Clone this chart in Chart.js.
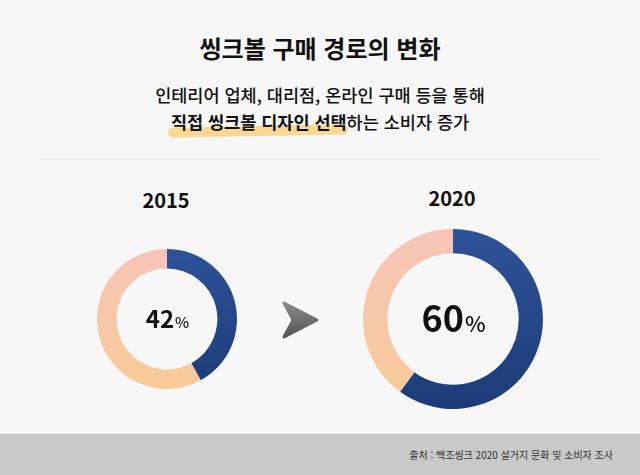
<!DOCTYPE html>
<html lang="ko">
<head>
<meta charset="utf-8">
<script src="https://cdn.jsdelivr.net/npm/chart.js@4/dist/chart.umd.min.js"></script>
<style>
  html, body { margin: 0; padding: 0; }
  body {
    width: 640px; height: 475px; position: relative; overflow: hidden;
    background: #f7f7f7;
    font-family: "Noto Sans CJK KR", "Noto Sans", sans-serif;
    color: #111;
  }
  .abs { position: absolute; }
  #title { left: 0; width: 640px; top: 31px; text-align: center; font-size: 24px; font-weight: 700; line-height: 34px; }
  .sub { left: 0; width: 640px; text-align: center; font-size: 17.5px; font-weight: 500; line-height: 24px; }
  #sub1 { top: 83px; }
  #sub2 { top: 110px; }
  #sub2 b { font-weight: 700; position: relative; }
  #mark { left: 168px; top: 126px; width: 180px; height: 10px; background: rgba(249, 208, 118, 0.8);
    border-radius: 5px; transform: rotate(-1deg); }
  #rule { left: 40px; top: 159px; width: 560px; height: 1px; background: #e9e9e9; }
  .year { font-size: 20px; font-weight: 700; text-align: center; width: 100px; line-height: 24px; }
  #footer { left: 0; top: 433px; width: 640px; height: 42px; background: #c9c9c9; border-top: 1px solid #efefef; }
  #source { right: 27px; top: 447px; font-size: 10px; color: #333; line-height: 16px; }
</style>
</head>
<body>
<div id="mark" class="abs"></div>
<div id="title" class="abs">씽크볼 구매 경로의 변화</div>
<div id="sub1" class="abs sub">인테리어 업체, 대리점, 온라인 구매 등을 통해</div>
<div id="sub2" class="abs sub"><b>직접 씽크볼 디자인 선택</b>하는 소비자 증가</div>
<div id="rule" class="abs"></div>

<div id="y0" class="abs year" style="left:116px; top:188px;"></div>
<div id="y1" class="abs year" style="left:402px; top:186px;"></div>

<div class="abs" style="left:97px; top:249px; width:140px; height:140px;"><canvas id="donut0"></canvas></div>
<div class="abs" style="left:363px; top:229px; width:180px; height:180px;"><canvas id="donut1"></canvas></div>

<svg class="abs" style="left:0; top:0;" width="640" height="475">
  <defs>
    <linearGradient id="arrowGrad" x1="0" y1="0" x2="0" y2="1">
      <stop offset="0" stop-color="#8a8a8a"/>
      <stop offset="1" stop-color="#555"/>
    </linearGradient>
  </defs>
  <polygon points="284,303 317,320 284,337 293,320" fill="url(#arrowGrad)" stroke="url(#arrowGrad)" stroke-width="3" stroke-linejoin="round"/>
</svg>

<div id="footer" class="abs"></div>
<div id="source" class="abs">출처 : 백조씽크 2020 설거지 문화 및 소비자 조사</div>

<script>
// data
const years = ['2015', '2020'];
const directShare = [42, 60];   // 직접 선택 비율 (%)
const otherShare = [58, 40];
const segmentLabels = ['직접 선택', '기타'];

// center label size per chart
const numberFont = [24, 36];
const percentFont = [15, 22];

function vGradient(ctx, area, top, bottom) {
  const g = ctx.createLinearGradient(0, area.top, 0, area.bottom);
  g.addColorStop(0, top);
  g.addColorStop(1, bottom);
  return g;
}

// draws "42%" style label in the hole
const centerText = {
  id: 'centerText',
  afterDraw(chart, args, opts) {
    const ctx = chart.ctx;
    const meta = chart.getDatasetMeta(0).data[0];
    const cx = meta.x, cy = meta.y;
    const num = String(opts.value);
    ctx.save();
    ctx.fillStyle = '#111';
    ctx.textBaseline = 'alphabetic';
    ctx.font = '700 ' + opts.numSize + 'px "Noto Sans CJK KR"';
    const w1 = ctx.measureText(num).width;
    ctx.font = '500 ' + opts.pctSize + 'px "Noto Sans CJK KR"';
    const w2 = ctx.measureText('%').width;
    const x0 = cx - (w1 + w2) / 2;
    const base = cy + opts.numSize * 0.36;
    ctx.font = '700 ' + opts.numSize + 'px "Noto Sans CJK KR"';
    ctx.fillText(num, x0, base);
    ctx.font = '500 ' + opts.pctSize + 'px "Noto Sans CJK KR"';
    ctx.fillText('%', x0 + w1 + 1, base);
    ctx.restore();
  }
};

function makeDonut(i) {
  document.getElementById('y' + i).textContent = years[i];
  const ctx = document.getElementById('donut' + i).getContext('2d');
  return new Chart(ctx, {
    type: 'doughnut',
    data: {
      labels: segmentLabels,
      datasets: [{
        data: [directShare[i], otherShare[i]],
        backgroundColor: (c) => {
          const area = c.chart.chartArea;
          if (!area) return c.dataIndex === 0 ? '#264a8c' : '#f8c8a8';
          return c.dataIndex === 0
            ? vGradient(c.chart.ctx, area, '#2d5399', '#1d3b78')
            : vGradient(c.chart.ctx, area, '#f6c5b8', '#f9cb96');
        },
        borderWidth: 0,
      }],
    },
    options: {
      responsive: true,
      maintainAspectRatio: false,
      animation: false,
      cutout: i === 0 ? '72%' : '73%',
      layout: { padding: 0 },
      plugins: {
        legend: { display: false },
        tooltip: { enabled: false },
        centerText: { value: directShare[i], numSize: numberFont[i], pctSize: percentFont[i] },
      },
    },
    plugins: [centerText],
  });
}

document.fonts.load('700 20px "Noto Sans CJK KR"').then(() => {
  makeDonut(0);
  makeDonut(1);
});
</script>
</body>
</html>
